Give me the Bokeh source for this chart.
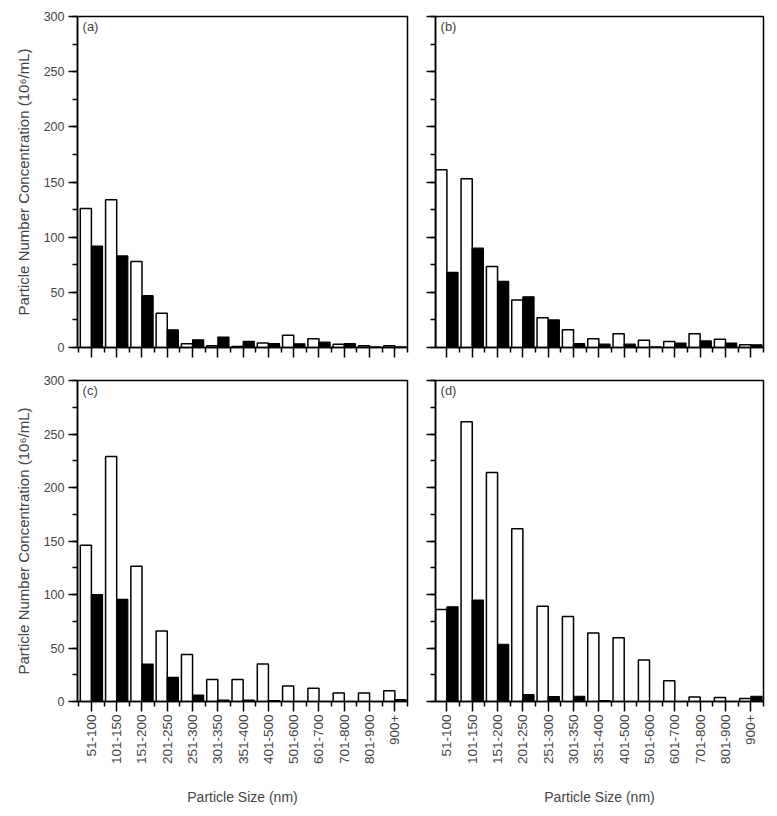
import math
from bokeh.plotting import figure
from bokeh.layouts import column, row
from bokeh.models import FixedTicker, ColumnDataSource, Label, Range1d
from bokeh.transform import dodge
from bokeh.embed import file_html
from bokeh.resources import INLINE

categories = ["51-100", "101-150", "151-200", "201-250", "251-300", "301-350",
              "351-400", "401-500", "501-600", "601-700", "701-800", "801-900", "900+"]

open_a = [126, 134, 78, 31, 3.5, 1.5, 1, 4, 11, 8, 3, 1.5, 1.5]
filled_a = [92, 83, 47, 16, 7, 9.5, 5.5, 3.5, 3.3, 4.8, 3.5, 0.5, 0.5]

open_b = [161, 153, 73.5, 43, 27, 16, 8, 12.5, 6.5, 5.5, 12.5, 7.5, 2.5]
filled_b = [68, 90, 60, 46, 25, 3.5, 3, 3, 0.5, 4, 6, 4, 2.5]

open_c = [146, 229, 126.5, 66, 44, 20.5, 20.5, 35, 14.5, 12.5, 8, 8, 10]
filled_c = [100, 95.5, 35, 22.5, 6, 1.2, 1.2, 0.9, 0, 0, 0, 0, 1.8]

open_d = [86, 261.5, 214, 161.5, 89, 79.5, 64, 59.5, 38.7, 19.5, 4.3, 3.8, 2.7]
filled_d = [88.5, 94.8, 53.5, 6.4, 4.6, 4.9, 0.9, 0, 0, 0, 0, 0, 4.9]

y_ticks = [0, 50, 100, 150, 200, 250, 300]
y_minor = [0, 25, 50, 75, 100, 125, 150, 175, 200, 225, 250, 275, 300]

FONT = "Liberation Sans, Arial, sans-serif"
TXT = "#444444"


def make_panel(tag, open_vals, filled_vals, width, height, borders, show_x, show_y, x_start):
    pos = list(range(1, len(categories) + 1))
    src = ColumnDataSource(dict(pos=pos, cat=categories, open=open_vals, filled=filled_vals))
    p = figure(width=width, height=height, output_backend="svg", toolbar_location=None,
               x_range=Range1d(x_start, 13.5), y_range=Range1d(0, 300))
    p.min_border_left, p.min_border_right, p.min_border_top, p.min_border_bottom = borders
    p.grid.visible = False
    p.outline_line_color = "black"
    p.outline_line_width = 1.5
    p.outline_line_alpha = 1
    p.background_fill_color = "white"
    p.border_fill_color = "white"

    p.vbar(x=dodge("pos", -0.22), top="open", width=0.44, source=src,
           fill_color="white", line_color="black", line_width=1.5)
    p.vbar(x=dodge("pos", 0.22), top="filled", width=0.44, source=src,
           fill_color="black", line_color="black", line_width=1.2)

    xa = p.xaxis[0]
    xa.ticker = FixedTicker(ticks=pos, minor_ticks=[i + 0.5 for i in range(0, 14)])
    xa.major_label_orientation = math.pi / 2
    xa.major_tick_in = 0
    xa.major_tick_out = 10
    xa.minor_tick_in = 0
    xa.minor_tick_out = 5
    xa.axis_line_width = 1.5
    xa.major_tick_line_width = 1.5
    xa.minor_tick_line_width = 1.5
    xa.major_label_text_font = FONT
    xa.major_label_text_color = TXT
    xa.major_label_text_font_size = "13.5px"
    xa.major_label_standoff = 3
    if show_x:
        xa.major_label_overrides = {i: c for i, c in zip(pos, categories)}
        xa.axis_label = "Particle Size (nm)"
        xa.axis_label_text_font = FONT
        xa.axis_label_text_font_style = "normal"
        xa.axis_label_text_font_size = "14px"
        xa.axis_label_text_color = TXT
        xa.axis_label_standoff = 22
    else:
        xa.major_label_overrides = {i: "" for i in pos}
        xa.major_label_standoff = 0

    ya = p.yaxis[0]
    ya.ticker = FixedTicker(ticks=y_ticks, minor_ticks=y_minor)
    ya.major_tick_in = 0
    ya.major_tick_out = 9
    ya.minor_tick_in = 0
    ya.minor_tick_out = 5
    ya.axis_line_width = 1.5
    ya.major_tick_line_width = 1.5
    ya.minor_tick_line_width = 1.5
    ya.major_label_text_font = FONT
    ya.major_label_text_color = TXT
    ya.major_label_text_font_size = "12.5px"
    ya.major_label_standoff = 4
    if show_y:
        ya.axis_label = "Particle Number Concentration (10\u2076/mL)"
        ya.axis_label_text_font = FONT
        ya.axis_label_text_font_style = "normal"
        ya.axis_label_text_font_size = "15px"
        ya.axis_label_text_color = TXT
        ya.axis_label_standoff = 9
    else:
        ya.major_label_overrides = {t: "" for t in y_ticks}
        ya.major_label_standoff = 0

    p.add_layout(Label(x=x_start + 0.2, y=298, text=tag, text_font=FONT,
                       text_font_size="13px", text_color=TXT, text_baseline="top"))
    return p


pa = make_panel("(a)", open_a, filled_a, 421, 363, (77, 14, 16, 16), False, True, 0.45)
pb = make_panel("(b)", open_b, filled_b, 346, 363, (14, 4, 16, 16), False, False, 0.55)
pc = make_panel("(c)", open_c, filled_c, 421, 445, (77, 14, 17, 100), True, True, 0.45)
pd = make_panel("(d)", open_d, filled_d, 346, 445, (14, 4, 17, 100), True, False, 0.55)

layout = column(row(pa, pb), row(pc, pd))
open("out.html", "w").write(file_html(layout, INLINE))
